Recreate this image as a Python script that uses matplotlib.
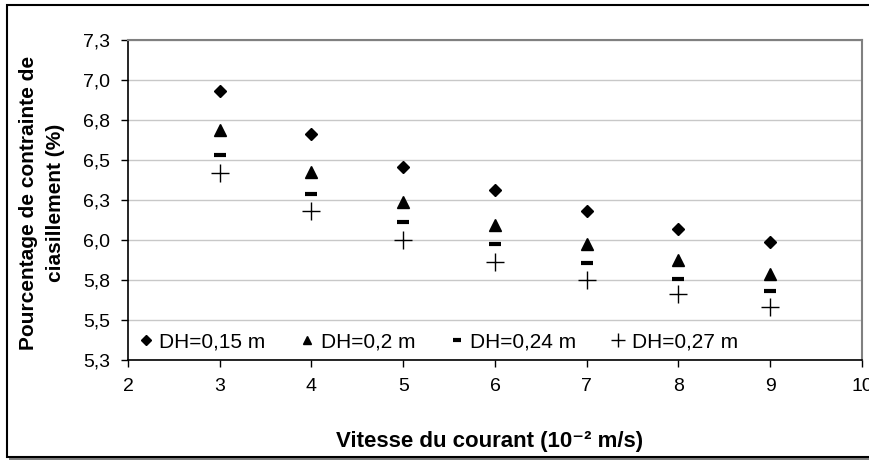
import matplotlib
matplotlib.use("Agg")
import matplotlib.pyplot as plt
from matplotlib.patches import Rectangle

plt.rcParams['font.family'] = ['Liberation Sans', 'DejaVu Sans']

# data
vitesse = [3, 4, 5, 6, 7, 8, 9]
dh_015 = [6.93, 6.66, 6.455, 6.31, 6.18, 6.07, 5.985]
dh_02 = [6.69, 6.425, 6.24, 6.095, 5.975, 5.875, 5.79]
dh_024 = [6.53, 6.29, 6.11, 5.975, 5.855, 5.755, 5.68]
dh_027 = [6.42, 6.18, 6.0, 5.86, 5.75, 5.66, 5.58]
labels = ["DH=0,15 m", "DH=0,2 m", "DH=0,24 m", "DH=0,27 m"]

y_ticks = [5.25, 5.5, 5.75, 6.0, 6.25, 6.5, 6.75, 7.0, 7.25]
y_tick_labels = ["5,3", "5,5", "5,8", "6,0", "6,3", "6,5", "6,8", "7,0", "7,3"]
x_ticks = [2, 3, 4, 5, 6, 7, 8, 9, 10]

W, H = 870, 462
fig = plt.figure(figsize=(W / 100, H / 100), dpi=100)

# outer chart frame with shadow
fig.patches.append(Rectangle((9 / W, 1 - 460 / H), 1.2, (460 - 7) / H, transform=fig.transFigure,
                             facecolor="#808080", edgecolor="none", zorder=-3))
fig.patches.append(Rectangle((7 / W, 1 - 457 / H), 1.2, (457 - 5) / H, transform=fig.transFigure,
                             facecolor="white", edgecolor="black", linewidth=1.5, zorder=-2))

ax = fig.add_axes([128 / W, 1 - 360 / H, 734 / W, 320 / H])
ax.set_facecolor("white")

ax.plot(vitesse, dh_015, linestyle="none", marker="D", ms=6, color="black", label=labels[0])
ax.plot(vitesse, dh_02, linestyle="none", marker="^", ms=8, color="black", label=labels[1])
ax.plot(vitesse, dh_024, linestyle="none", marker="_", ms=8, mew=3, color="black", label=labels[2])
ax.plot(vitesse, dh_027, linestyle="none", marker="+", ms=13, mew=1, color="black", label=labels[3])

ax.set_xlim(2, 10)
ax.set_ylim(5.25, 7.25)
ax.set_xticks(x_ticks)
ax.set_yticks(y_ticks)
ax.set_yticklabels(y_tick_labels)
ax.tick_params(labelsize=14, length=5, width=1, color="black", pad=8)
ax.grid(axis="y", color="#c8c8c8", linewidth=1)
ax.set_axisbelow(True)

for s in ["left", "bottom"]:
    ax.spines[s].set_color("black")
    ax.spines[s].set_linewidth(1.2)
for s in ["top", "right"]:
    ax.spines[s].set_color("#808080")
    ax.spines[s].set_linewidth(1.5)

leg = ax.legend(loc="lower left", bbox_to_anchor=(0.007, 0.015), ncol=4, fontsize=15,
                frameon=True, fancybox=False, borderpad=0.2, borderaxespad=0,
                handlelength=0.8, handletextpad=0.25, columnspacing=1.6, markerscale=0.8)
leg.get_frame().set_edgecolor("none")
leg.get_frame().set_facecolor("white")
leg.get_frame().set_alpha(1)

fig.text(42 / W, 1 - 203 / H, "Pourcentage de contrainte de\nciasillement (%)", rotation=90,
         ha="center", va="center", fontsize=15, fontweight="bold", linespacing=1.55)
fig.text(490 / W, 1 - 441 / H, "Vitesse du courant (10⁻² m/s)",
         ha="center", va="center", fontsize=16, fontweight="bold")

fig.savefig("out.png", dpi=100)
